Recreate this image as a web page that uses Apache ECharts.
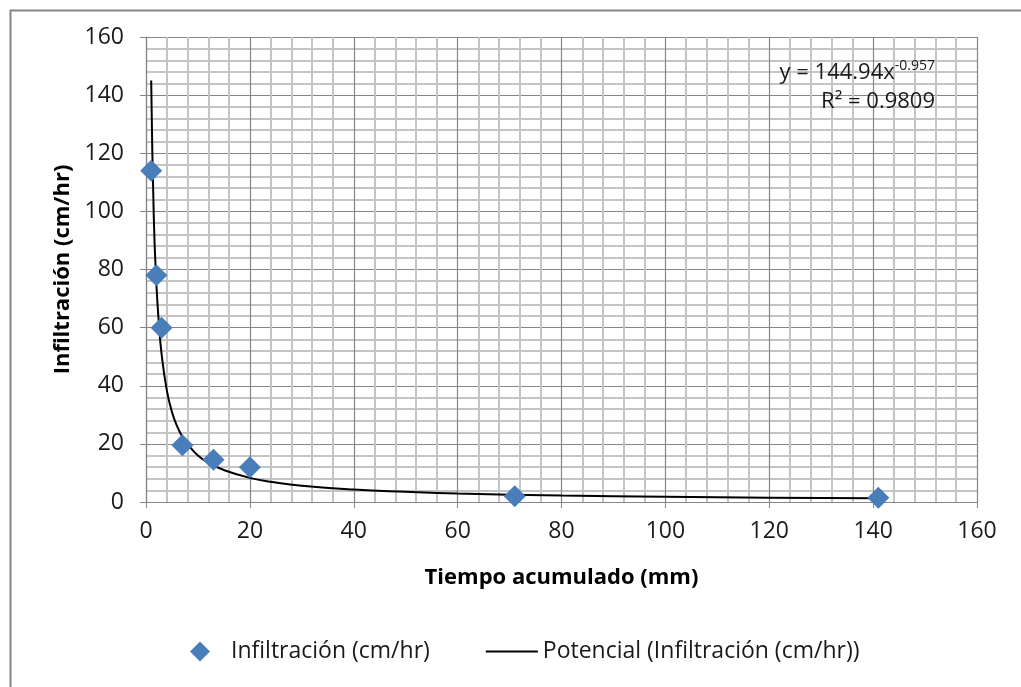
<!DOCTYPE html>
<html>
<head>
<meta charset="utf-8">
<script src="https://cdn.jsdelivr.net/npm/echarts@6/dist/echarts.min.js"></script>
<style>
  html, body { margin: 0; padding: 0; background: #fff; }
  #chart { width: 1021px; height: 687px; }
</style>
</head>
<body>
<div id="chart"></div>
<script>
// measured points (tiempo acumulado, infiltracion)
var tiempo = [1, 2, 3, 7, 13, 20, 71, 141];
var infiltracion = [114, 78, 60, 19.5, 14.5, 12, 2, 1.5];

// trend curve
var curvaX = [1, 1.5, 2, 2.5, 3, 4, 5, 6, 7, 8, 10, 12, 15, 20, 25, 30, 40, 50, 60, 80, 100, 120, 141];
var curvaY = [145, 98, 75, 61, 51, 38.5, 31, 26, 22.5, 20, 16, 13.5, 11, 8.3, 6.7, 5.6, 4.3, 3.5, 2.9, 2.2, 1.8, 1.5, 1.3];

var ejeTicks = [0, 20, 40, 60, 80, 100, 120, 140, 160];

var FONT = "Open Sans";

function pares(xs, ys) {
    return xs.map(function (x, i) { return [x, ys[i]]; });
}

var chart = echarts.init(document.getElementById("chart"));

var axisCommon = {
    type: "value",
    min: ejeTicks[0],
    max: ejeTicks[ejeTicks.length - 1],
    interval: 20,
    minorTick: { show: false, splitNumber: 5 },
    minorSplitLine: { show: true, lineStyle: { color: "#c4c4c4", width: 2 } },
    splitLine: { show: true, lineStyle: { color: "#868686", width: 1.2 } },
    axisLine: { show: true, lineStyle: { color: "#868686", width: 1.2 } },
    axisTick: { show: true, length: 6, lineStyle: { color: "#868686" } },
    axisLabel: { color: "#1a1a1a", fontFamily: FONT, fontSize: 23 },
    nameLocation: "middle",
    nameTextStyle: { color: "#000", fontFamily: FONT, fontSize: 22, fontWeight: "bold" }
};

chart.setOption({
    animation: false,
    backgroundColor: "#fff",
    grid: { left: 146, right: 44, top: 37, bottom: 185 },
    xAxis: Object.assign({}, axisCommon, {
        name: "Tiempo acumulado (mm)",
        nameGap: 65,
        axisLabel: Object.assign({}, axisCommon.axisLabel, { margin: 18 })
    }),
    yAxis: Object.assign({}, axisCommon, {
        name: "Infiltración (cm/hr)",
        nameGap: 72,
        axisLabel: Object.assign({}, axisCommon.axisLabel, { margin: 22 })
    }),
    legend: {
        bottom: 19,
        left: 185,
        itemGap: 56,
        itemWidth: 52,
        itemHeight: 20,
        symbolKeepAspect: true,
        textStyle: { color: "#1a1a1a", fontFamily: FONT, fontSize: 23 },
        data: [
            { name: "Infiltración (cm/hr)", icon: "path://M10,0 L20,10 L10,20 L0,10 Z", itemStyle: { color: "#4a7ebb" } },
            { name: "Potencial (Infiltración (cm/hr))", icon: "path://M0,0 L52,0 L52,2 L0,2 Z", itemStyle: { color: "#000" } }
        ]
    },
    graphic: [
        {
            type: "rect",
            left: 8, top: 8,
            shape: { width: 1030, height: 700 },
            style: { fill: "none", stroke: "#868686", lineWidth: 2 },
            silent: true, z: -1
        },
        {
            type: "text",
            right: 86, top: 59, z: 100,
            style: {
                text: "{n|y = 144.94x}{s|-0.957}",
                rich: {
                    n: { fontFamily: FONT, fontSize: 22, fill: "#1a1a1a" },
                    s: { fontFamily: FONT, fontSize: 14, fill: "#1a1a1a", verticalAlign: "top", padding: [0, 0, 14, 0] }
                }
            }
        },
        {
            type: "text",
            right: 86, top: 91, z: 100,
            style: { text: "R² = 0.9809", fontFamily: FONT, fontSize: 22, fill: "#1a1a1a" }
        }
    ],
    series: [
        {
            name: "Potencial (Infiltración (cm/hr))",
            type: "line",
            smooth: true,
            showSymbol: false,
            lineStyle: { color: "#000", width: 2 },
            data: pares(curvaX, curvaY),
            z: 2
        },
        {
            name: "Infiltración (cm/hr)",
            type: "scatter",
            symbol: "diamond",
            symbolSize: 22,
            itemStyle: { color: "#4a7ebb", opacity: 1 },
            data: pares(tiempo, infiltracion),
            z: 3
        }
    ]
});
</script>
</body>
</html>
